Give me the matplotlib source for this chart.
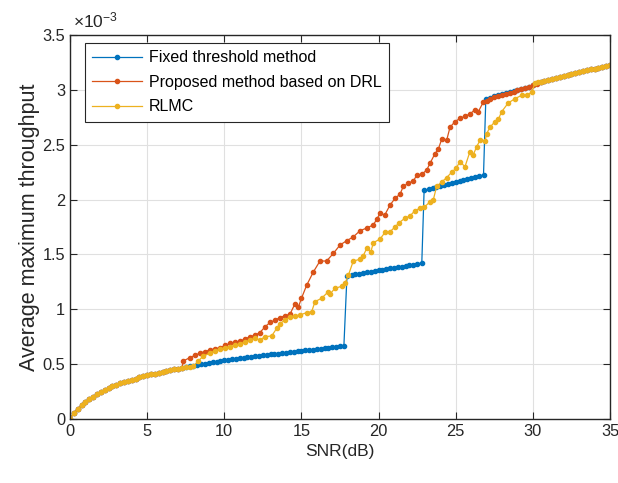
import numpy as np
import matplotlib
matplotlib.use('Agg')
import matplotlib.pyplot as plt

plt.rcParams['font.family'] = ['Liberation Sans', 'DejaVu Sans']
plt.rcParams['mathtext.default'] = 'regular'

# shared start of all three curves (SNR dB, throughput x1e-3)
snr_low = [0, 0.25, 0.5, 0.75, 1, 1.25, 1.5, 1.75, 2, 2.25, 2.5, 2.75, 3, 3.25, 3.5,
           3.75, 4, 4.25, 4.5, 4.75, 5, 5.25, 5.5, 5.75, 6, 6.25, 6.5, 6.75, 7, 7.25]
thr_low = [0, 0.055, 0.09, 0.125, 0.155, 0.18, 0.203, 0.225, 0.245, 0.265, 0.285, 0.30,
           0.313, 0.325, 0.337, 0.348, 0.359, 0.369, 0.379, 0.389, 0.398, 0.406, 0.414,
           0.422, 0.43, 0.438, 0.445, 0.452, 0.459, 0.466]

# shared end of all three curves
snr_high = [30.5, 30.75, 31, 31.25, 31.5, 31.75, 32, 32.25, 32.5, 32.75, 33, 33.25,
            33.5, 33.75, 34, 34.25, 34.5, 34.75, 35]
thr_high = [3.072, 3.082, 3.092, 3.101, 3.11, 3.119, 3.128, 3.137, 3.146, 3.154, 3.162,
            3.17, 3.178, 3.186, 3.194, 3.202, 3.21, 3.218, 3.226]

# fixed threshold method
snr_fixed = [7.5, 7.75, 8, 8.25, 8.5, 8.75, 9, 9.25, 9.5, 9.75, 10, 10.25, 10.5, 10.75,
             11, 11.25, 11.5, 11.75, 12, 12.25, 12.5, 12.75, 13, 13.25, 13.5, 13.75, 14,
             14.25, 14.5, 14.75, 15, 15.25, 15.5, 15.75, 16, 16.25, 16.5, 16.75, 17,
             17.25, 17.5, 17.75,
             17.95, 18.25, 18.5, 18.75, 19, 19.25, 19.5, 19.75, 20, 20.25, 20.5, 20.75,
             21, 21.25, 21.5, 21.75, 22, 22.25, 22.5, 22.8,
             22.95, 23.25, 23.5, 23.75, 24, 24.25, 24.5, 24.75, 25, 25.25, 25.5, 25.75,
             26, 26.25, 26.5, 26.8,
             26.95, 27.25, 27.5, 27.75, 28, 28.25, 28.5, 28.75, 29, 29.25, 29.5, 29.75,
             30, 30.25]
thr_fixed = [0.473, 0.479, 0.486, 0.492, 0.498, 0.504, 0.51, 0.516, 0.522, 0.528, 0.534,
             0.539, 0.544, 0.549, 0.554, 0.559, 0.564, 0.568, 0.573, 0.577, 0.581, 0.585,
             0.589, 0.593, 0.597, 0.601, 0.605, 0.609, 0.613, 0.617, 0.621, 0.625, 0.629,
             0.633, 0.637, 0.641, 0.645, 0.649, 0.653, 0.657, 0.661, 0.665,
             1.305, 1.312, 1.318, 1.324, 1.33, 1.336, 1.342, 1.348, 1.354, 1.36, 1.366,
             1.372, 1.378, 1.384, 1.39, 1.396, 1.402, 1.408, 1.414, 1.422,
             2.085, 2.095, 2.105, 2.115, 2.125, 2.134, 2.143, 2.152, 2.161, 2.17, 2.179,
             2.188, 2.197, 2.206, 2.215, 2.225,
             2.92, 2.93, 2.94, 2.95, 2.96, 2.97, 2.98, 2.99, 3.0, 3.01, 3.02, 3.03,
             3.045, 3.06]

# proposed method based on DRL
snr_drl = [7.35, 7.78, 8.1, 8.42, 8.75, 9.07, 9.4, 9.72, 10.05, 10.37, 10.7, 11.0, 11.35,
           11.67, 12.0, 12.3, 12.64, 12.96, 13.28, 13.6, 13.93, 14.26, 14.58, 14.8, 15.0,
           15.34, 15.77, 16.2, 16.63, 17.07, 17.5, 17.93, 18.36, 18.8, 19.23, 19.66,
           19.88, 20.09, 20.4, 20.74, 21.06, 21.39, 21.6, 21.93, 22.25, 22.47, 22.8,
           23.12, 23.33, 23.66, 23.87, 24.09, 24.41, 24.63, 24.95, 25.27, 25.6, 25.92,
           26.25, 26.46, 26.79, 27.0, 27.2, 27.5, 27.75, 28, 28.25, 28.5, 28.75, 29,
           29.25, 29.5, 29.75, 30, 30.25]
thr_drl = [0.53, 0.56, 0.58, 0.60, 0.615, 0.63, 0.64, 0.65, 0.67, 0.69, 0.70, 0.71, 0.73,
           0.75, 0.765, 0.787, 0.84, 0.88, 0.90, 0.925, 0.94, 0.957, 1.05, 1.02, 1.10,
           1.22, 1.34, 1.44, 1.44, 1.51, 1.586, 1.625, 1.66, 1.717, 1.74, 1.77,
           1.82, 1.875, 1.86, 1.95, 2.01, 2.05, 2.12, 2.15, 2.17, 2.22, 2.23,
           2.27, 2.33, 2.42, 2.46, 2.55, 2.54, 2.66, 2.71, 2.74, 2.76, 2.78,
           2.82, 2.80, 2.89, 2.90, 2.915, 2.935, 2.945, 2.955, 2.965, 2.975, 2.985, 2.995,
           3.005, 3.015, 3.028, 3.042, 3.057]

# RLMC
snr_rlmc = [7.5, 7.75, 8.0, 8.32, 8.64, 9.07, 9.4, 9.72, 10.05, 10.37, 10.7, 11.0, 11.35,
            11.67, 11.99, 12.3, 12.64, 13.07, 13.4, 13.6, 13.93, 14.26, 14.58, 14.9,
            15.34, 15.66, 15.88, 16.3, 16.74, 16.85, 17.17, 17.6, 17.82, 18.04, 18.36,
            18.8, 19.0, 19.23, 19.5, 19.66, 20.09, 20.41, 20.74, 21.06, 21.34, 21.7,
            22.03, 22.36, 22.68, 22.96, 23.33, 23.55, 23.76, 24.09, 24.41, 24.74, 25.02,
            25.27, 25.6, 25.92, 26.14, 26.35, 26.57, 26.9, 27.0, 27.22, 27.54, 27.76,
            27.97, 28.4, 28.84, 29.27, 29.6, 29.92, 30.14, 30.35]
thr_rlmc = [0.472, 0.478, 0.484, 0.53, 0.574, 0.60, 0.62, 0.635, 0.65, 0.66, 0.67, 0.684,
            0.70, 0.72, 0.735, 0.72, 0.75, 0.757, 0.827, 0.87, 0.90, 0.93, 0.94, 0.948,
            0.97, 0.978, 1.07, 1.10, 1.16, 1.14, 1.19, 1.21, 1.237, 1.31, 1.44,
            1.456, 1.486, 1.556, 1.525, 1.607, 1.64, 1.70, 1.707, 1.75, 1.79, 1.83,
            1.85, 1.90, 1.92, 1.93, 1.98, 2.0, 2.12, 2.16, 2.20, 2.25, 2.285,
            2.345, 2.30, 2.437, 2.41, 2.48, 2.54, 2.53, 2.60, 2.66, 2.71, 2.73,
            2.80, 2.88, 2.92, 2.95, 2.95, 2.98, 3.06, 3.07]

labels = ['Fixed threshold method', 'Proposed method based on DRL', 'RLMC']
colors = ['#0072BD', '#D95319', '#EDB120']
series = [(snr_fixed, thr_fixed), (snr_drl, thr_drl), (snr_rlmc, thr_rlmc)]

fig = plt.figure(figsize=(6.18, 4.83), dpi=100)
ax = fig.add_axes([0.1133, 0.1325, 0.8738, 0.795])

for (sx, sy), lab, c in zip(series, labels, colors):
    x = np.concatenate([snr_low, sx, snr_high])
    y = np.concatenate([thr_low, sy, thr_high])
    ax.plot(x, y, '.-', color=c, lw=0.9, ms=6, label=lab)

ax.set_xlim(0, 35)
ax.set_ylim(0, 3.5)
ax.set_xticks(np.arange(0, 36, 5))
ax.set_yticks(np.arange(0, 3.6, 0.5))
ax.set_yticklabels(['0', '0.5', '1', '1.5', '2', '2.5', '3', '3.5'])
ax.grid(True, color='#e0e0e0', lw=0.8)
ax.set_axisbelow(True)
ax.tick_params(direction='in', top=True, right=True, length=5, labelsize=11.8,
               colors='#262626', labelcolor='#262626')
for s in ax.spines.values():
    s.set_color('#262626')
    s.set_linewidth(1)

ax.set_xlabel('SNR(dB)', fontsize=12.5, color='#262626', labelpad=4)
ax.set_ylabel('Average maximum throughput', fontsize=15.5, color='#262626', labelpad=2)
ax.text(0.005, 1.012, r'$\times$10$^{-3}$', transform=ax.transAxes, fontsize=12.5,
        color='#262626', ha='left', va='bottom')

leg = ax.legend(loc='upper left', bbox_to_anchor=(0.028, 0.979), borderaxespad=0,
                fontsize=11.5, handlelength=3.1, handletextpad=0.45, labelspacing=0.6,
                fancybox=False, framealpha=1, edgecolor='#262626', borderpad=0.45)
leg.get_frame().set_linewidth(0.8)

fig.savefig('out.png', dpi=100)
